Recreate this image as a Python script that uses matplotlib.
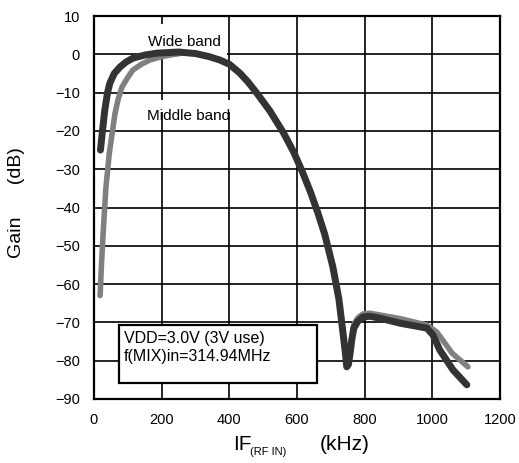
import numpy as np
import matplotlib
matplotlib.use("Agg")
import matplotlib.pyplot as plt

plt.rcParams['font.family'] = ['Liberation Sans', 'DejaVu Sans']

# wide band (dark curve)
wide_f = [19, 25, 32, 40, 47, 60, 77, 95, 115, 150, 186, 250, 300, 340, 372, 400, 431, 455, 480,
          520, 560, 590, 615, 640, 662, 682, 706, 724, 736, 743, 747, 752, 757, 762, 768, 780,
          795, 815, 845, 904, 984, 1002, 1022, 1061, 1102]
wide_gain = [-25, -20, -14.5, -10, -7.5, -5, -3.3, -2, -1, -0.2, 0.3, 0.6, 0.2, -0.6, -1.5, -2.6, -4.9, -7.2, -10,
             -14.8, -20.5, -25.5, -30.5, -36, -41.5, -47, -55.5, -64, -72.8, -78, -81.6, -81, -78, -74.5, -71.5, -69.7,
             -68.6, -68.4, -68.9, -70.2, -71.5, -73.3, -77.2, -82.4, -86.3]

# middle band (gray curve)
mid_f = [18, 22, 27, 35, 45, 53, 62, 72, 83, 100, 115, 140, 165, 200, 225, 260, 300, 340, 372, 400,
         431, 455, 480, 520, 560, 590, 615, 640, 662, 682, 706, 724, 736, 743, 747, 752, 757, 762,
         768, 780, 795, 815, 904, 984, 1013, 1037, 1058, 1105]
mid_gain = [-63, -55, -46.7, -35, -26, -21, -15.5, -11.5, -8.5, -6, -4.1, -2.6, -1.5, -0.6, -0.2, 0.3, 0.2, -0.6, -1.5, -2.6,
            -4.9, -7.2, -10, -14.8, -20.5, -25.5, -30.5, -36, -41.5, -47, -55.5, -64, -72.8, -78, -81.6, -81, -78, -74,
            -70.5, -68.8, -67.8, -67.6, -69, -70.7, -72.5, -75.4, -78, -81.6]

xticks = [0, 200, 400, 600, 800, 1000, 1200]
yticks = [10, 0, -10, -20, -30, -40, -50, -60, -70, -80, -90]

fig = plt.figure(figsize=(5.19, 4.63), dpi=100)
ax = fig.add_axes([94 / 519, 1 - 399 / 463, 406 / 519, 383 / 463])

ax.plot(mid_f, mid_gain, color='#808080', lw=4.0, solid_capstyle='round',
        solid_joinstyle='round', zorder=3)
ax.plot(wide_f, wide_gain, color='#333333', lw=5.0, solid_capstyle='round',
        solid_joinstyle='round', zorder=4)

ax.set_xlim(0, 1200)
ax.set_ylim(-90, 10)
ax.set_xticks(xticks)
ax.set_yticks(yticks)
ax.grid(True, color='black', lw=1.2)
ax.set_axisbelow(True)
for s in ax.spines.values():
    s.set_linewidth(1.6)
ax.tick_params(length=0, labelsize=10.5, pad=10)

# white label backgrounds hiding parts of the grid
ax.add_patch(plt.Rectangle((151, -0.2), 242, 8.1, facecolor='white',
                           edgecolor='none', zorder=1))
ax.add_patch(plt.Rectangle((159, -15.1), 249, 3.2, facecolor='white',
                           edgecolor='none', zorder=1))
ax.text(268, 3.2, 'Wide band', ha='center', va='center', fontsize=11, zorder=2)
mid_txt = ax.text(280, -16.2, 'Middle band', ha='center', va='center',
                  fontsize=11, zorder=2)
clip = plt.Rectangle((100, -17.9), 400, 10, transform=ax.transData)
mid_txt.set_clip_path(clip)

# condition box
ax.add_patch(plt.Rectangle((74, -85.8), 585, 15.1, facecolor='white',
                           edgecolor='black', lw=1.6, zorder=5))
ax.text(88, -74.3, 'VDD=3.0V (3V use)', fontsize=11.5, va='center', zorder=6)
ax.text(88, -78.8, 'f(MIX)in=314.94MHz', fontsize=11.5, va='center', zorder=6)

fig.text(17 / 519, 1 - 203 / 463, 'Gain      (dB)', rotation=90, ha='center',
         va='center', fontsize=14)
fig.text(233 / 519, 1 - 445 / 463, 'IF', fontsize=15, va='center')
fig.text(250 / 519, 1 - 452 / 463, '(RF IN)', fontsize=8, va='center')
fig.text(320 / 519, 1 - 445 / 463, '(kHz)', fontsize=15, va='center')

fig.savefig('out.png', dpi=100)
